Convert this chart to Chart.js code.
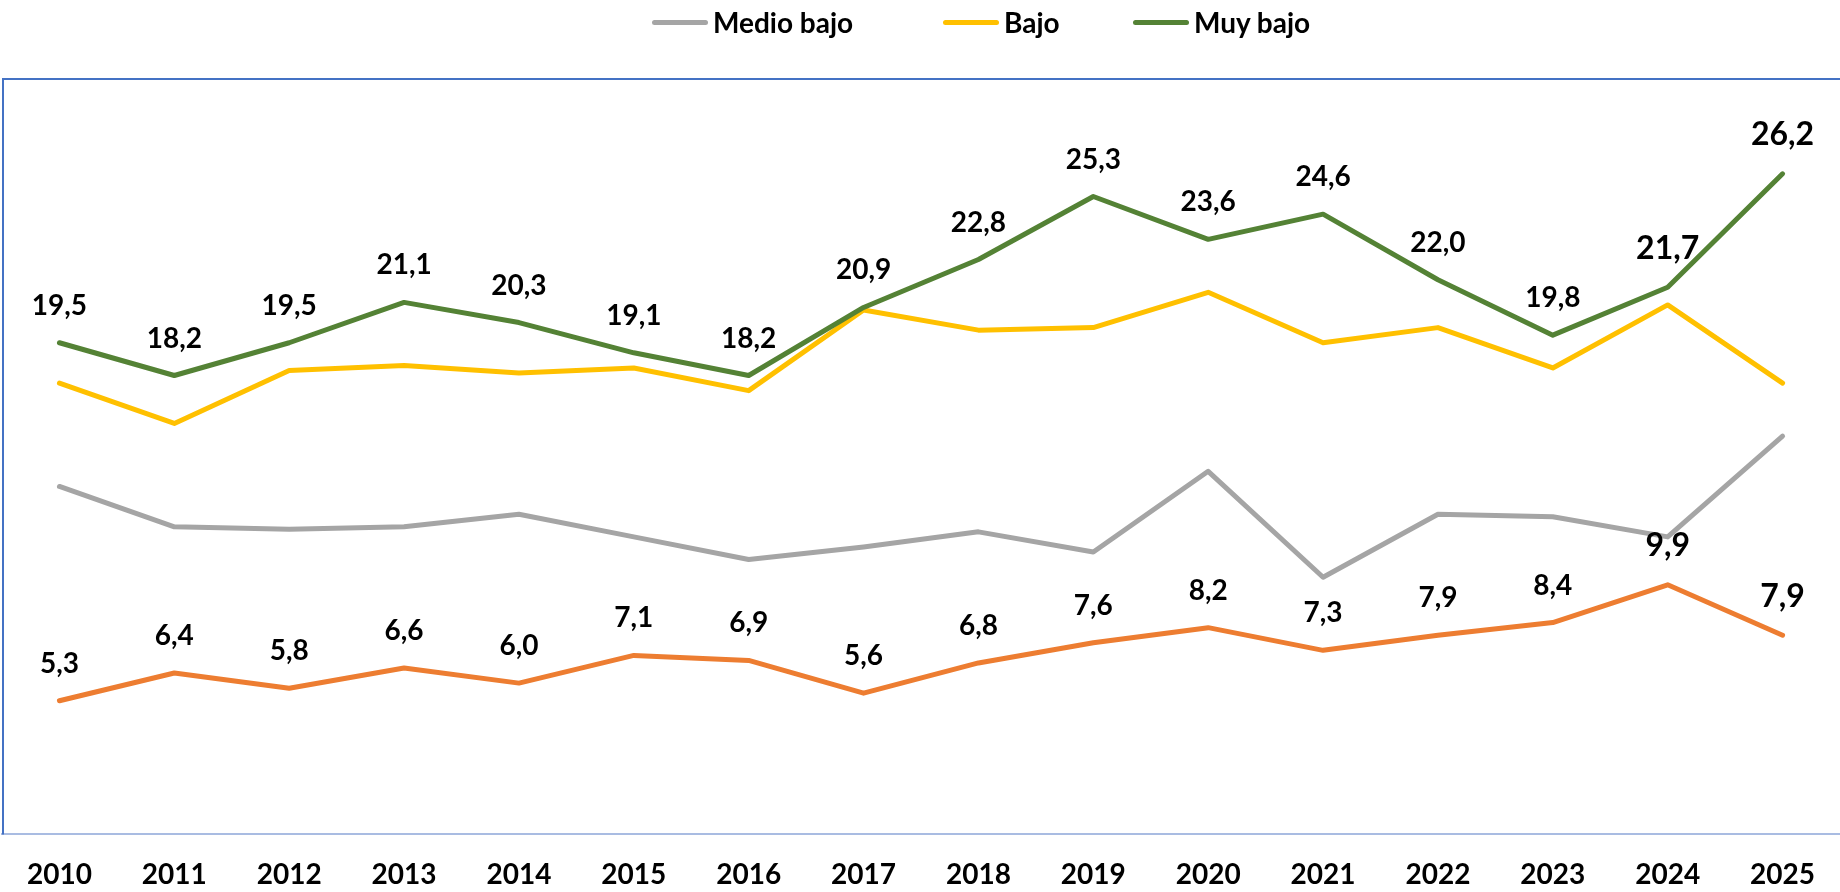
<!DOCTYPE html>
<html>
<head>
<meta charset="utf-8">
<script src="https://cdn.jsdelivr.net/npm/chart.js@4"></script>
<style>
html,body{margin:0;padding:0;background:#fff;}
#wrap{position:relative;width:1840px;height:892px;}
#legend{position:absolute;left:0;top:0;width:1840px;height:44px;
font-family:Lato,"Open Sans",sans-serif;font-weight:bold;font-size:28px;color:#000;}
.item{position:absolute;top:0;height:44px;display:flex;align-items:center;white-space:nowrap;}
.swatch{width:56px;height:5px;border-radius:3px;margin-right:5px;}
</style>
</head>
<body>
<div id="wrap">
<canvas id="chart" width="1840" height="892"></canvas>
<div id="legend"></div>
</div>
<script>

const years = ["2010","2011","2012","2013","2014","2015","2016","2017","2018","2019","2020","2021","2022","2023","2024","2025"];

const medioBajo = [13.8,12.2,12.1,12.2,12.7,11.8,10.9,11.4,12.0,11.2,14.4,10.2,12.7,12.6,11.8,15.8];
const bajo = [17.9,16.3,18.4,18.6,18.3,18.5,17.6,20.8,20.0,20.1,21.5,19.5,20.1,18.5,21.0,17.9];
const muyBajo = [19.5,18.2,19.5,21.1,20.3,19.1,18.2,20.9,22.8,25.3,23.6,24.6,22.0,19.8,21.7,26.2];
const cuarta = [5.3,6.4,5.8,6.6,6.0,7.1,6.9,5.6,6.8,7.6,8.2,7.3,7.9,8.4,9.9,7.9];

const seriesNames = ["Medio bajo","Bajo","Muy bajo",""];
const legendNames = ["Medio bajo","Bajo","Muy bajo"];

const colors = ["#A5A5A5","#FFC000","#548235","#ED7D31"];
const legendLeft = [652,943,1133];
const bigLabelYears = ["2024","2025"];

/* legend */
const legend = document.getElementById("legend");
legendNames.forEach((name,k)=>{
const i = seriesNames.indexOf(name);
legend.innerHTML += `<div class="item" style="left:${legendLeft[k]}px"><span class="swatch" style="background:${colors[i]}"></span><span>${name}</span></div>`;
});

function lineSet(label,data,color,order,showLabels){
return {
label:label,
data:data,
borderColor:color,
backgroundColor:color,
borderWidth:5,
pointRadius:0,
tension:0,
borderCapStyle:"round",
borderJoinStyle:"round",
order:order,
showLabels:showLabels
};
}

/* values above the points */
const valueLabels = {
id:"valueLabels",
afterDatasetsDraw(chart){
const ctx = chart.ctx;
ctx.save();
ctx.fillStyle = "#000";
ctx.textAlign = "center";
ctx.textBaseline = "middle";
chart.data.datasets.forEach((ds,i)=>{
if(!ds.showLabels) return;
const meta = chart.getDatasetMeta(i);
meta.data.forEach((pt,j)=>{
const big = bigLabelYears.includes(years[j]);
ctx.font = "bold " + (big ? 32 : 28) + "px Lato, 'Open Sans', sans-serif";
const txt = ds.data[j].toFixed(1).replace(".",",");
ctx.fillText(txt, pt.x, pt.y - (big ? 39 : 37));
});
});
ctx.restore();
}
};

/* plot area outline */
const plotFrame = {
id:"plotFrame",
beforeDatasetsDraw(chart){
const a = chart.chartArea;
const ctx = chart.ctx;
ctx.save();
ctx.strokeStyle = "#4472C4";
ctx.lineWidth = 2;
ctx.beginPath();
ctx.moveTo(a.left + 1, a.bottom);
ctx.lineTo(a.left + 1, a.top + 1);
ctx.lineTo(a.right, a.top + 1);
ctx.stroke();
ctx.restore();
}
};

new Chart(
document.getElementById("chart"),
{
type:"line",
data:{
labels:years,
datasets:[
lineSet(seriesNames[0],medioBajo,colors[0],3,false),
lineSet(seriesNames[1],bajo,colors[1],2,false),
lineSet(seriesNames[2],muyBajo,colors[2],0,true),
lineSet(seriesNames[3],cuarta,colors[3],1,true)
]
},
options:{
responsive:false,
animation:false,
layout:{
padding:{left:2,right:0,top:78,bottom:0}
},
plugins:{
legend:{display:false},
tooltip:{enabled:false}
},
scales:{
x:{
offset:true,
grid:{display:false,drawTicks:true,tickLength:24},
border:{display:true,color:"#A9BCE2",width:2},
ticks:{
color:"#000",
padding:0,
font:{family:"Lato, 'Open Sans', sans-serif",weight:"bold",size:28}
}
},
y:{
display:false,
min:0,
max:30
}
}
},
plugins:[valueLabels,plotFrame]
}
);

</script>
</body>
</html>
